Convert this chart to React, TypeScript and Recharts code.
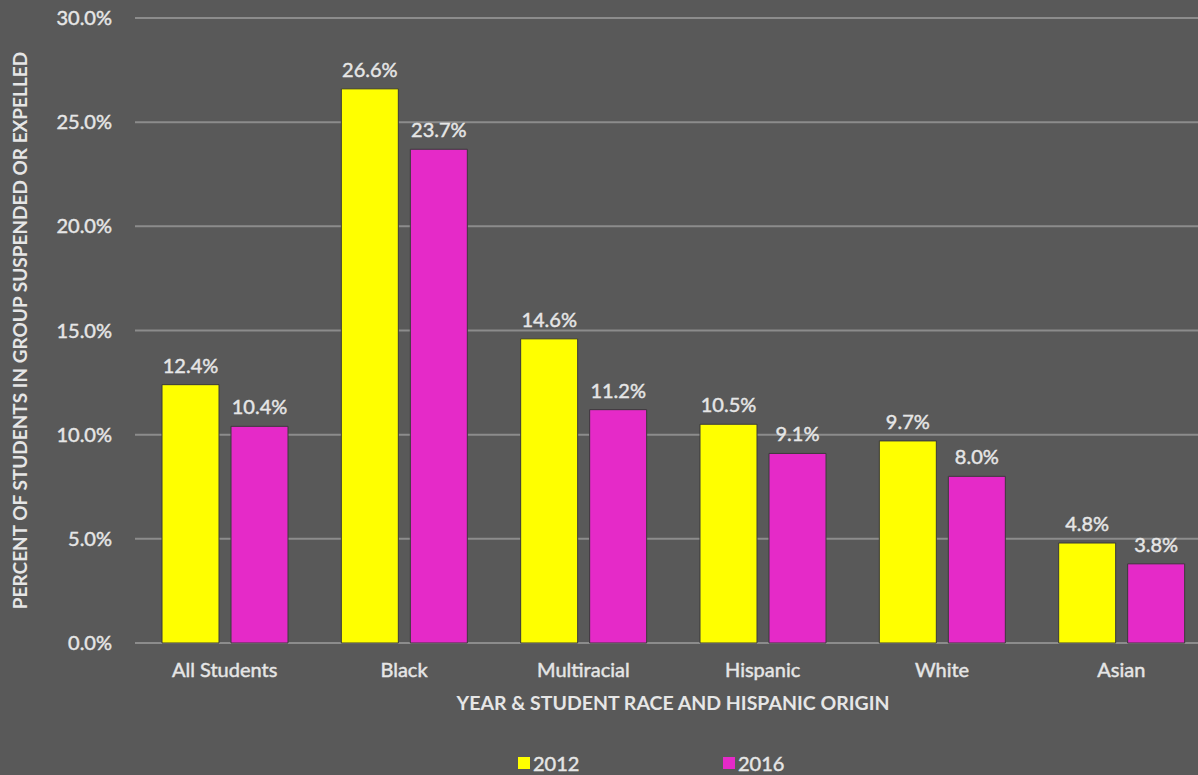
import React from 'react';
import { BarChart, Bar, XAxis, YAxis, CartesianGrid, Legend, LabelList, Label } from 'recharts';

const categories = ['All Students', 'Black', 'Multiracial', 'Hispanic', 'White', 'Asian'];
const values2012 = [12.4, 26.6, 14.6, 10.5, 9.7, 4.8];
const values2016 = [10.4, 23.7, 11.2, 9.1, 8.0, 3.8];
const yTicks = [0, 5, 10, 15, 20, 25, 30];

const data = categories.map((c, i) => ({ name: c, y2012: values2012[i], y2016: values2016[i] }));

const FONT = 'Lato, "Open Sans", sans-serif';
const TXT = '#e6e6e6';
const YELLOW = '#ffff00';
const MAGENTA = '#e52ac8';
const BG = '#595959';
const textStyle = { fill: TXT, fontFamily: FONT, fontSize: 20, stroke: TXT, strokeWidth: 0.45 };

const LegendContent = () => (
  <div style={{ height: 26, position: 'relative', fontFamily: FONT, fontSize: 20, color: TXT, lineHeight: '26px', WebkitTextStroke: '0.45px #e6e6e6' }}>
    <div style={{ position: 'absolute', left: 518, top: 1, display: 'flex', alignItems: 'center' }}>
      <span style={{ width: 12, height: 12, background: YELLOW, display: 'inline-block', marginRight: 3 }} />
      <span>2012</span>
    </div>
    <div style={{ position: 'absolute', left: 723, top: 1, display: 'flex', alignItems: 'center' }}>
      <span style={{ width: 12, height: 12, background: MAGENTA, display: 'inline-block', marginRight: 3 }} />
      <span>2016</span>
    </div>
  </div>
);

export default function App() {
  return (
    <div style={{ width: 1198, height: 775, overflow: 'hidden', background: BG, position: 'relative' }}>
      <style>{`html,body{margin:0;padding:0;background:${BG};overflow:hidden;}`}</style>
      <BarChart
        width={1214}
        height={775}
        data={data}
        margin={{ top: 18, right: 3, bottom: 0, left: 0 }}
        barCategoryGap={27}
        barGap={12}
      >
        <CartesianGrid vertical={false} stroke="#8c8c8c" strokeWidth={2} />
        <XAxis
          dataKey="name"
          axisLine={false}
          tickLine={false}
          tickSize={0}
          tickMargin={20}
          height={106}
          interval={0}
          tick={textStyle}
        >
          <Label
            value="YEAR & STUDENT RACE AND HISPANIC ORIGIN"
            position="insideTop"
            offset={53}
            style={{ fill: TXT, fontFamily: FONT, fontSize: 19.5, fontWeight: 700 }}
          />
        </XAxis>
        <YAxis
          domain={[0, 30]}
          ticks={yTicks}
          axisLine={false}
          tickLine={false}
          tickSize={0}
          tickMargin={23}
          width={135}
          tickFormatter={(v: number) => v.toFixed(1) + '%'}
          tick={textStyle}
        >
          <Label
            value="PERCENT OF STUDENTS IN GROUP SUSPENDED OR EXPELLED"
            angle={-90}
            position="insideLeft"
            offset={20}
            style={{ textAnchor: 'middle', fill: TXT, fontFamily: FONT, fontSize: 19, fontWeight: 700 }}
          />
        </YAxis>
        <Legend verticalAlign="bottom" content={<LegendContent />} />
        <Bar dataKey="y2012" name="2012" fill={YELLOW} stroke="#3a3a3a" strokeWidth={1} isAnimationActive={false}>
          <LabelList dataKey="y2012" position="top" offset={12} formatter={(v: number) => v.toFixed(1) + '%'} style={textStyle} />
        </Bar>
        <Bar dataKey="y2016" name="2016" fill={MAGENTA} stroke="#3a3a3a" strokeWidth={1} isAnimationActive={false}>
          <LabelList dataKey="y2016" position="top" offset={12} formatter={(v: number) => v.toFixed(1) + '%'} style={textStyle} />
        </Bar>
      </BarChart>
    </div>
  );
}
